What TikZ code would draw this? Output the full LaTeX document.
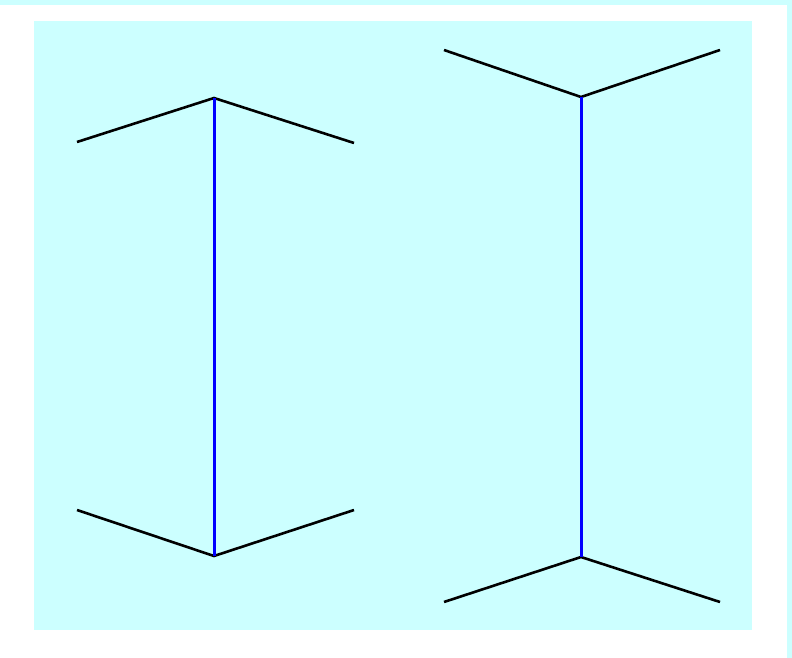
\documentclass[tikz,border=0pt]{standalone}
\definecolor{bgcyan}{HTML}{CCFFFF}
\tikzset{
  fin/.style={black, line width=2.6pt},
  shaft/.style={blue, line width=3pt}
}
\begin{document}
\begin{tikzpicture}[x=1pt,y=-1pt]
\useasboundingbox (0,0) rectangle (792,658);
\fill[bgcyan] (0,0) rectangle (792,658);
\fill[white] (0,5) rectangle (787,658);
\fill[bgcyan] (34,21) rectangle (752,630);
% left figure
\coordinate (lt) at (214,98);
\coordinate (lb) at (214,556);
\draw[fin] (77,142) -- (lt) -- (354,143);
\draw[fin] (77,510) -- (lb) -- (354,510);
\draw[shaft] (lt) -- (lb);
% right figure
\coordinate (rt) at (581,97);
\coordinate (rb) at (581,557);
\draw[fin] (444,50) -- (rt) -- (720,50);
\draw[fin] (444,602) -- (rb) -- (720,602);
\draw[shaft] (rt) -- (rb);
\end{tikzpicture}
\end{document}
